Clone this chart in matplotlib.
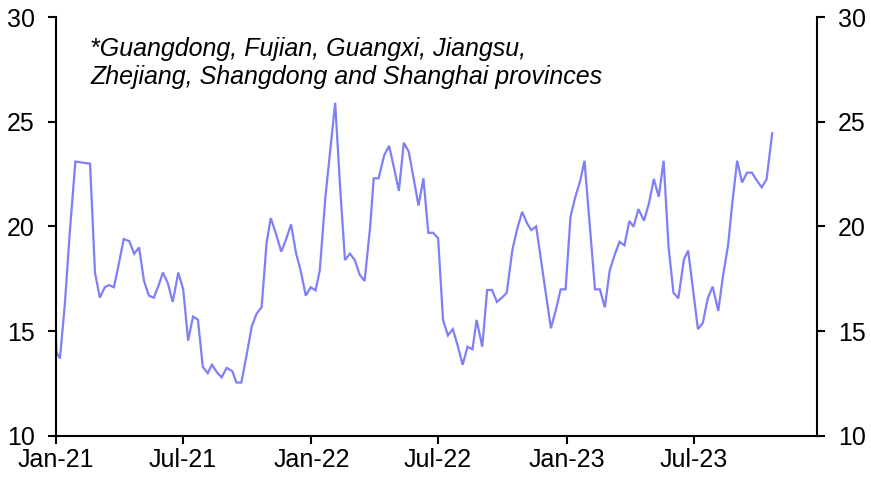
import matplotlib
matplotlib.use("Agg")
import matplotlib.pyplot as plt
import matplotlib.dates as mdates
import pandas as pd

day_offsets = [0, 1, 6, 13, 20, 28, 49, 56, 63, 70, 76, 83, 90, 97, 105, 112, 119, 126,
               133, 140, 147, 153, 160, 167, 175, 182, 189, 196, 203, 210, 217, 223,
               231, 237, 244, 252, 258, 265, 273, 280, 287, 294, 301, 307, 314, 322,
               329, 336, 343, 350, 357, 364, 371, 377, 385, 399, 406, 413, 420, 427,
               434, 441, 449, 454, 461, 469, 476, 483, 490, 497, 504, 511, 518, 525,
               532, 539, 546, 553, 560, 567, 574, 581, 588, 595, 601, 609, 616, 623,
               630, 637, 644, 652, 659, 666, 673, 679, 686, 707, 714, 721, 728, 735,
               742, 749, 755, 770, 777, 784, 791, 798, 805, 812, 819, 825, 832, 840,
               847, 854, 861, 868, 875, 882, 889, 897, 903, 917, 924, 931, 938, 946,
               953, 960, 966, 973, 980, 987, 994, 1001, 1008, 1015, 1023]

values = [15.3, 14.0, 13.7, 16.3, 19.7, 23.1, 23.0, 17.8, 16.6, 17.1, 17.2, 17.1, 18.2,
          19.4, 19.3, 18.7, 19.0, 17.4, 16.7, 16.6, 17.2, 17.8, 17.3, 16.4, 17.8, 17.0,
          14.55, 15.7, 15.55, 13.3, 13.0, 13.4, 13.0, 12.8, 13.25, 13.1, 12.55, 12.55,
          13.95, 15.25, 15.85, 16.15, 19.2, 20.4, 19.7, 18.8, 19.4, 20.1, 18.75, 17.85,
          16.7, 17.1, 16.95, 17.9, 21.4, 25.9, 21.9, 18.4, 18.7, 18.4, 17.7, 17.4, 20.0,
          22.3, 22.3, 23.4, 23.85, 22.8, 21.7, 24.0, 23.57, 22.3, 21.0, 22.3, 19.7, 19.7,
          19.44, 15.54, 14.8, 15.1, 14.3, 13.4, 14.26, 14.14, 15.54, 14.26, 16.97, 16.97,
          16.4, 16.6, 16.84, 18.88, 19.9, 20.7, 20.15, 19.83, 20.0, 15.14, 16.0, 17.0,
          17.0, 20.47, 21.42, 22.2, 23.14, 17.0, 17.0, 16.14, 17.9, 18.64, 19.27, 19.1,
          20.26, 19.99, 20.83, 20.28, 21.1, 22.27, 21.42, 23.14, 19.04, 16.84, 16.57,
          18.43, 18.85, 15.1, 15.4, 16.57, 17.13, 15.97, 17.7, 19.1, 21.1, 23.14, 22.1,
          22.57, 22.57, 22.2, 21.87, 22.25, 24.45]

start_date = "2021-01-01"
end_date = "2023-12-24"
y_ticks = [10, 15, 20, 25, 30]
note = "*Guangdong, Fujian, Guangxi, Jiangsu,\nZhejiang, Shangdong and Shanghai provinces"

dates = pd.Timestamp(start_date) + pd.to_timedelta(day_offsets, unit="D")

plt.rcParams["font.family"] = ["Liberation Sans", "DejaVu Sans"]

fig = plt.figure(figsize=(8.71, 4.79), dpi=100)
ax = fig.add_axes([0.064, 0.0898, 0.874, 0.8747])

ax.plot(dates, values, color="#7f7ff7", lw=1.6, solid_joinstyle="miter")

ax.set_xlim(pd.Timestamp(start_date), pd.Timestamp(end_date))
ax.set_ylim(10, 30)
ax.set_yticks(y_ticks)
ax.xaxis.set_major_locator(mdates.MonthLocator(bymonth=[1, 7]))
ax.xaxis.set_major_formatter(mdates.DateFormatter("%b-%y"))

for s in ["left", "right", "bottom"]:
    ax.spines[s].set_linewidth(1.5)
    ax.spines[s].set_color("black")
ax.spines["top"].set_visible(False)

ax.tick_params(axis="y", which="both", left=True, right=True, labelleft=True,
               labelright=True, direction="out", length=6, width=1.5,
               labelsize=18, pad=9)
ax.tick_params(axis="x", direction="out", length=6, width=1.5, labelsize=18, pad=3)

ax.text(0.045, 0.952, note, transform=ax.transAxes, ha="left", va="top",
        fontsize=18, style="italic", linespacing=1.22)

fig.savefig("out.png", dpi=100)
